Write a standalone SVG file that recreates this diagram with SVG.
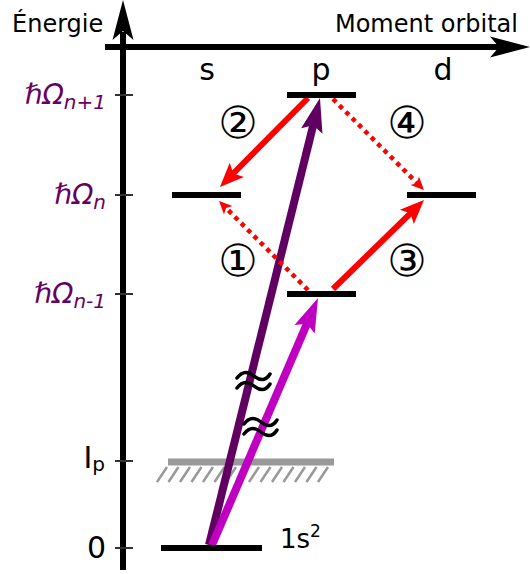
<svg xmlns="http://www.w3.org/2000/svg" width="530" height="574" viewBox="0 0 530 574">
<style>
text{font-family:"DejaVu Sans","Noto Sans CJK JP",sans-serif;fill:#000}
.lbl{font-size:28px;font-style:italic;fill:#650065}
.sub{font-size:20px}
.orb{font-size:30px;text-anchor:middle}
.circ{font-size:44px;text-anchor:middle}
.lvl{stroke:#000;stroke-width:6;fill:none}
.tick{stroke:#333;stroke-width:2}
.hatch{stroke:#999;stroke-width:2.5}
.red{stroke:#ff0000;stroke-width:6;fill:none}
.dot{stroke:#ff0000;stroke-width:4.5;stroke-dasharray:4.5 4.5;fill:none}
.sq{stroke:#000;stroke-width:3.5;fill:none;stroke-linecap:round}
</style>
<defs>
<marker id="hRed" markerUnits="userSpaceOnUse" viewBox="-12 -12 28 24" markerWidth="28" markerHeight="24" refX="0" refY="0" orient="auto"><path d="M14,0 L-10,-10 L-5,0 L-10,10 Z" fill="#ff0000"/></marker>
<marker id="hDot" markerUnits="userSpaceOnUse" viewBox="-8 -8 18 16" markerWidth="18" markerHeight="16" refX="0" refY="0" orient="auto"><path d="M8,0 L-5,-6 L-2,0 L-5,6 Z" fill="#ff0000"/></marker>
<marker id="hPur" markerUnits="userSpaceOnUse" viewBox="-22 -13 38 26" markerWidth="38" markerHeight="26" refX="0" refY="0" orient="auto"><path d="M14,0 L-20,-11 L-14,0 L-20,11 Z" fill="#600060"/></marker>
<marker id="hMag" markerUnits="userSpaceOnUse" viewBox="-22 -13 38 26" markerWidth="38" markerHeight="26" refX="0" refY="0" orient="auto"><path d="M14,0 L-20,-11 L-14,0 L-20,11 Z" fill="#c000c0"/></marker>
</defs>

<g id="axes">
<line x1="123" y1="570" x2="123" y2="32" stroke="#000" stroke-width="6"/>
<path d="M123,0 L133.5,40 L123,31 L112.5,40 Z" fill="#000"/>
<line x1="105" y1="47" x2="500" y2="47" stroke="#000" stroke-width="6"/>
<path d="M530,47 L490,36.5 L499,47 L490,57.5 Z" fill="#000"/>
<text x="12" y="32" font-size="24">Énergie</text>
<text x="518" y="32" font-size="24" text-anchor="end">Moment orbital</text>
<line class="tick" x1="115" y1="95" x2="133" y2="95"/>
<line class="tick" x1="115" y1="195" x2="133" y2="195"/>
<line class="tick" x1="115" y1="294" x2="133" y2="294"/>
<line class="tick" x1="115" y1="461" x2="133" y2="461"/>
<line class="tick" x1="115" y1="548" x2="133" y2="548"/>
</g>

<g id="axis-labels">
<text class="lbl" x="106" y="104" text-anchor="end">ℏΩ<tspan class="sub" dy="5">n+1</tspan></text>
<text class="lbl" x="106" y="204" text-anchor="end">ℏΩ<tspan class="sub" dy="5">n</tspan></text>
<text class="lbl" x="106" y="303" text-anchor="end">ℏΩ<tspan class="sub" dy="5">n-1</tspan></text>
<text x="105" y="468" font-size="30" text-anchor="end">I<tspan font-size="20" dy="3">p</tspan></text>
<text x="106" y="558" font-size="30" text-anchor="end">0</text>
</g>

<g id="orbital-labels">
<text class="orb" x="207" y="80">s</text>
<text class="orb" x="321" y="80">p</text>
<text class="orb" x="443" y="80">d</text>
</g>

<g id="ionization">
<line x1="168" y1="462" x2="334" y2="462" stroke="#999" stroke-width="7"/>
<path class="hatch" d="M167,467 L157,482 M178.5,467 L168.5,482 M190,467 L180,482 M201.5,467 L191.5,482 M213,467 L203,482 M224.5,467 L214.5,482 M236,467 L226,482 M247.5,467 L237.5,482 M259,467 L249,482 M270.5,467 L260.5,482 M282,467 L272,482 M293.5,467 L283.5,482 M305,467 L295,482 M316.5,467 L306.5,482 M328,467 L318,482"/>
</g>

<g id="connectors">
<line x1="209" y1="545" x2="316.6" y2="111.6" stroke="#600060" stroke-width="8" marker-end="url(#hPur)"/>
<line x1="212" y1="545" x2="312.5" y2="310.9" stroke="#c000c0" stroke-width="8" marker-end="url(#hMag)"/>
<line class="red" x1="308" y1="98" x2="229.8" y2="177" marker-end="url(#hRed)"/>
<line class="red" x1="333" y1="289" x2="414" y2="209.8" marker-end="url(#hRed)"/>
<line class="dot" x1="308" y1="290" x2="224.7" y2="206.7" marker-end="url(#hDot)"/>
<line class="dot" x1="333" y1="99" x2="418.3" y2="184.3" marker-end="url(#hDot)"/>
</g>

<g id="breaks">
<path class="sq" d="M237,378 C243,370 249,372 254,376 S265,382 270,374"/>
<path class="sq" d="M237,388 C243,380 249,382 254,386 S265,392 270,384"/>
<path class="sq" d="M244,424 C250,416 256,418 261,422 S272,428 277,420"/>
<path class="sq" d="M244,434 C250,426 256,428 261,432 S272,438 277,430"/>
</g>

<g id="level-p-top"><line class="lvl" x1="287" y1="95" x2="356" y2="95"/></g>
<g id="level-s"><line class="lvl" x1="172" y1="195" x2="241" y2="195"/></g>
<g id="level-d"><line class="lvl" x1="407" y1="195" x2="476" y2="195"/></g>
<g id="level-p-low"><line class="lvl" x1="287" y1="294" x2="356" y2="294"/></g>
<g id="level-ground">
<line class="lvl" x1="161" y1="548" x2="262" y2="548"/>
<text x="280" y="548" font-size="26">1s<tspan font-size="17" dy="-11">2</tspan></text>
</g>

<g id="steps">
<text class="circ" x="238" y="138">②</text>
<text class="circ" x="238" y="276">①</text>
<text class="circ" x="407" y="138">④</text>
<text class="circ" x="407" y="276">③</text>
</g>
</svg>
